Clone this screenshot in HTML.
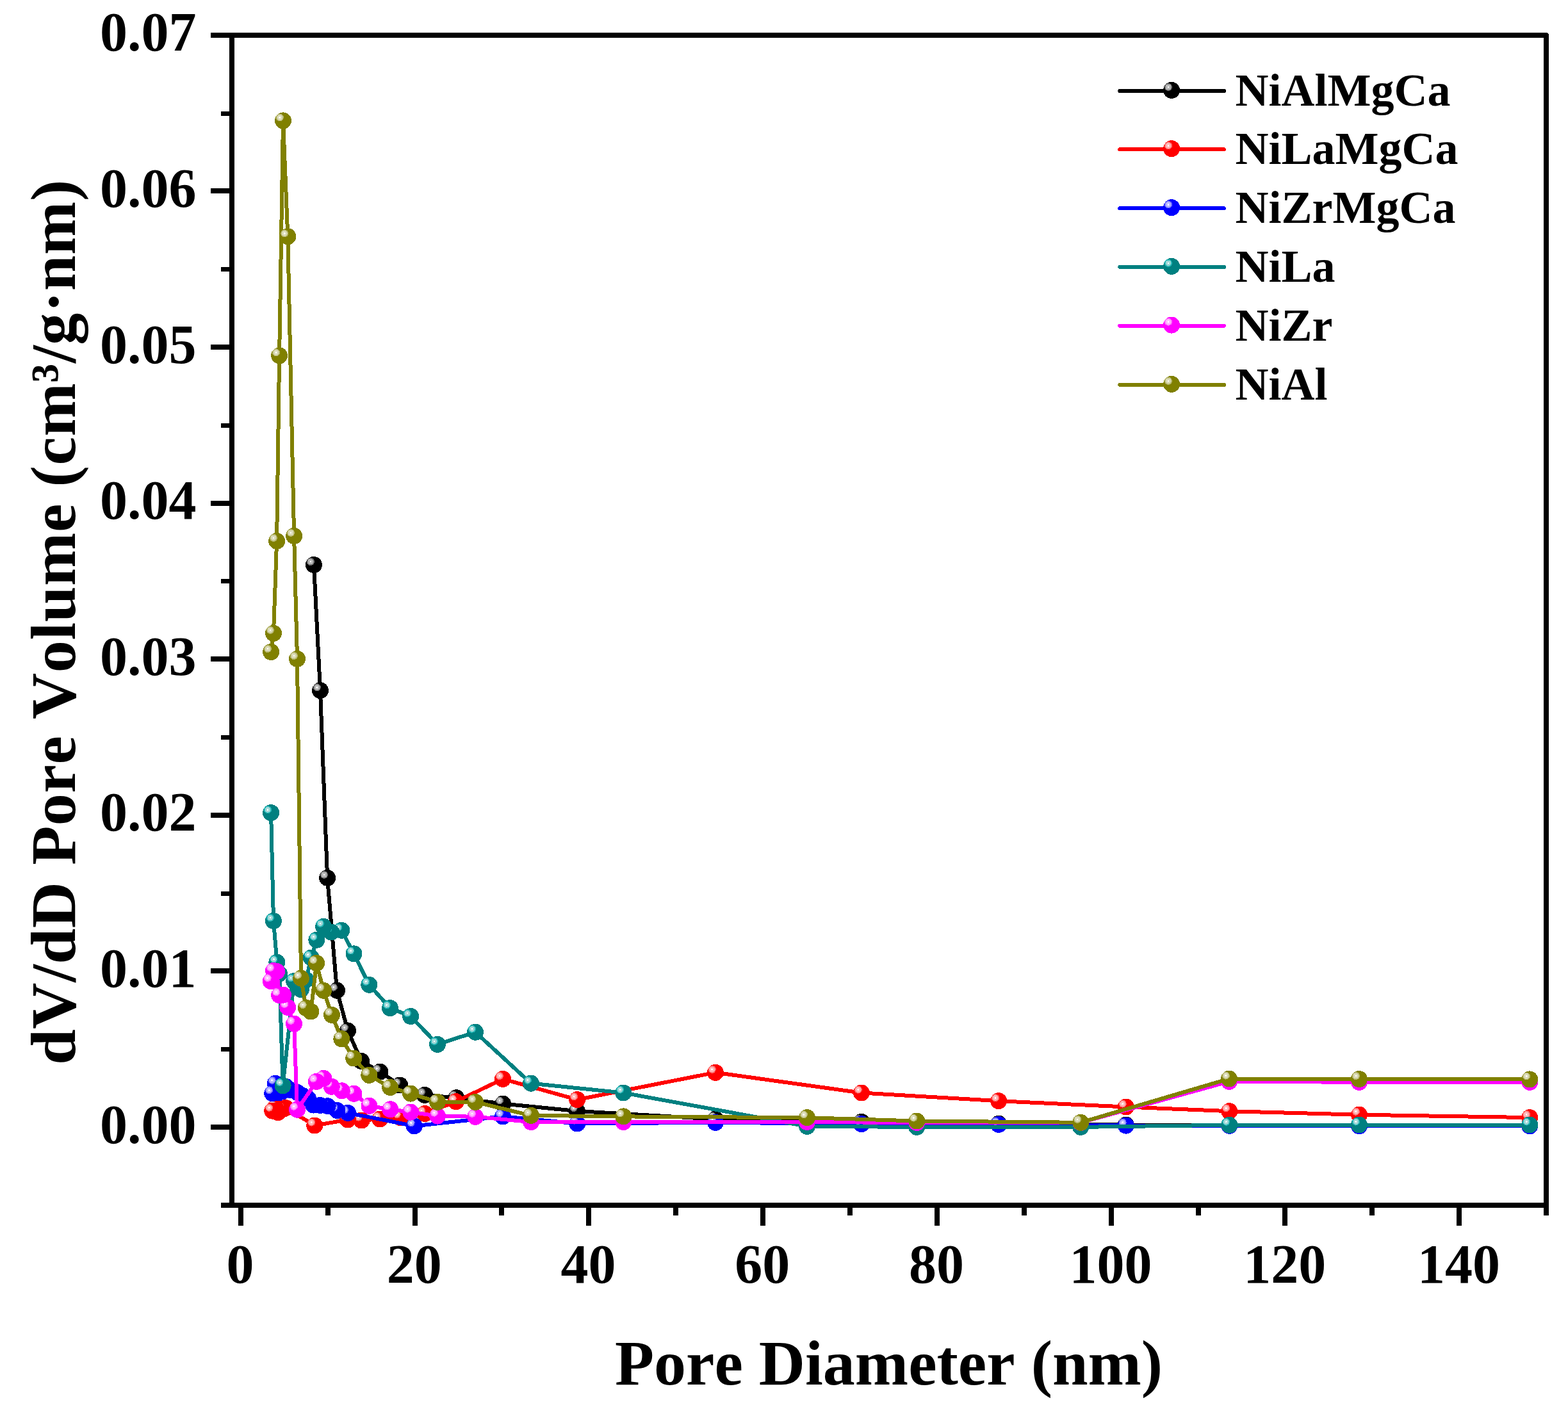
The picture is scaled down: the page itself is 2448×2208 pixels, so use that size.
<!DOCTYPE html>
<html lang="en"><head><meta charset="utf-8">
<title>dV/dD Pore Volume vs Pore Diameter</title>
<style>
html,body{margin:0;padding:0;background:#fff;}
body{width:2448px;height:2208px;overflow:hidden;}
svg{display:block;}
text{font-family:'Liberation Serif',serif;font-weight:bold;fill:#000;font-kerning:none;}
.tk{font-size:86px;}
.tt{font-size:100px;}
.lg{font-size:72px;}
</style></head><body>
<svg width="2448" height="2208" viewBox="0 0 2448 2208">
<defs><g id="m0"><circle r="13" fill="#000000"/><circle cx="-5.1" cy="-4.9" r="6" fill="#707070"/><circle cx="-5.1" cy="-4.9" r="4.4" fill="#b8b8b8"/><circle cx="-5.1" cy="-4.9" r="1.5" fill="#fff"/></g><g id="m1"><circle r="13" fill="#ff0000"/><circle cx="-5.1" cy="-4.9" r="6" fill="#ff7070"/><circle cx="-5.1" cy="-4.9" r="4.4" fill="#ffb8b8"/><circle cx="-5.1" cy="-4.9" r="1.5" fill="#fff"/></g><g id="m2"><circle r="13" fill="#0000ff"/><circle cx="-5.1" cy="-4.9" r="6" fill="#7070ff"/><circle cx="-5.1" cy="-4.9" r="4.4" fill="#b8b8ff"/><circle cx="-5.1" cy="-4.9" r="1.5" fill="#fff"/></g><g id="m3"><circle r="13" fill="#008080"/><circle cx="-5.1" cy="-4.9" r="6" fill="#28b8b8"/><circle cx="-5.1" cy="-4.9" r="4.4" fill="#a0d8d8"/><circle cx="-5.1" cy="-4.9" r="1.5" fill="#fff"/></g><g id="m4"><circle r="13" fill="#ff00ff"/><circle cx="-5.1" cy="-4.9" r="6" fill="#ff70ff"/><circle cx="-5.1" cy="-4.9" r="4.4" fill="#ffb8ff"/><circle cx="-5.1" cy="-4.9" r="1.5" fill="#fff"/></g><g id="m5"><circle r="13" fill="#808000"/><circle cx="-5.1" cy="-4.9" r="6" fill="#b8b870"/><circle cx="-5.1" cy="-4.9" r="4.4" fill="#dbdbb8"/><circle cx="-5.1" cy="-4.9" r="1.5" fill="#fff"/></g></defs>
<rect width="2448" height="2208" fill="#fff"/>
<g id="plot" shape-rendering="crispEdges">
<g id="s-black">
<polyline points="490,882 500,1078.2 511.1,1370.9 526,1546.7 543,1609.4 564.2,1657 593.3,1673.6 624.3,1694.5 663,1709.9 712.4,1714.3 785.1,1723.5 900.8,1735 1117,1747.5 1344.9,1751.8 1559.1,1754.7 1757.8,1756.5 1919.3,1757 2122,1757.5 2388.2,1758" fill="none" stroke="#000000" stroke-width="6" stroke-linejoin="round" stroke-linecap="round"/>
<use href="#m0" x="2388.2" y="1758"/>
<use href="#m0" x="2122" y="1757.5"/>
<use href="#m0" x="1919.3" y="1757"/>
<use href="#m0" x="1757.8" y="1756.5"/>
<use href="#m0" x="1559.1" y="1754.7"/>
<use href="#m0" x="1344.9" y="1751.8"/>
<use href="#m0" x="1117" y="1747.5"/>
<use href="#m0" x="900.8" y="1735"/>
<use href="#m0" x="785.1" y="1723.5"/>
<use href="#m0" x="712.4" y="1714.3"/>
<use href="#m0" x="663" y="1709.9"/>
<use href="#m0" x="624.3" y="1694.5"/>
<use href="#m0" x="593.3" y="1673.6"/>
<use href="#m0" x="564.2" y="1657"/>
<use href="#m0" x="543" y="1609.4"/>
<use href="#m0" x="526" y="1546.7"/>
<use href="#m0" x="511.1" y="1370.9"/>
<use href="#m0" x="500" y="1078.2"/>
<use href="#m0" x="490" y="882"/>
</g>
<g id="s-red">
<polyline points="425.3,1734.6 429.8,1729.2 434.1,1737.1 442,1732 446,1730 491.3,1757.5 543,1748.5 564.5,1749.5 593.3,1747.5 624.8,1745 663.2,1739 711.8,1720.2 785,1684.9 901.2,1717.1 1116.9,1674.8 1344.9,1706.5 1559.1,1719.2 1757.8,1728.5 1919.3,1735.2 2122,1740.7 2388.2,1745.1" fill="none" stroke="#ff0000" stroke-width="6" stroke-linejoin="round" stroke-linecap="round"/>
<use href="#m1" x="2388.2" y="1745.1"/>
<use href="#m1" x="2122" y="1740.7"/>
<use href="#m1" x="1919.3" y="1735.2"/>
<use href="#m1" x="1757.8" y="1728.5"/>
<use href="#m1" x="1559.1" y="1719.2"/>
<use href="#m1" x="1344.9" y="1706.5"/>
<use href="#m1" x="1116.9" y="1674.8"/>
<use href="#m1" x="901.2" y="1717.1"/>
<use href="#m1" x="785" y="1684.9"/>
<use href="#m1" x="711.8" y="1720.2"/>
<use href="#m1" x="663.2" y="1739"/>
<use href="#m1" x="624.8" y="1745"/>
<use href="#m1" x="593.3" y="1747.5"/>
<use href="#m1" x="564.5" y="1749.5"/>
<use href="#m1" x="543" y="1748.5"/>
<use href="#m1" x="491.3" y="1757.5"/>
<use href="#m1" x="446" y="1730"/>
<use href="#m1" x="442" y="1732"/>
<use href="#m1" x="434.1" y="1737.1"/>
<use href="#m1" x="429.8" y="1729.2"/>
<use href="#m1" x="425.3" y="1734.6"/>
</g>
<g id="s-blue">
<polyline points="425.3,1707.2 429.8,1691.8 434.5,1706.5 440.5,1704.5 446.3,1696.8 455.5,1702.5 464.5,1706.1 472.5,1711 481.1,1715.6 489.5,1725.6 500,1726 511.6,1727.2 526.4,1734 543,1737.8 646.8,1758.3 785,1743.4 901.2,1754.5 1117,1752.8 1344.9,1755.1 1559.1,1755.9 1757.8,1757.6 1919.3,1757.8 2122,1758.3 2388.2,1758.3" fill="none" stroke="#0000ff" stroke-width="6" stroke-linejoin="round" stroke-linecap="round"/>
<use href="#m2" x="2388.2" y="1758.3"/>
<use href="#m2" x="2122" y="1758.3"/>
<use href="#m2" x="1919.3" y="1757.8"/>
<use href="#m2" x="1757.8" y="1757.6"/>
<use href="#m2" x="1559.1" y="1755.9"/>
<use href="#m2" x="1344.9" y="1755.1"/>
<use href="#m2" x="1117" y="1752.8"/>
<use href="#m2" x="901.2" y="1754.5"/>
<use href="#m2" x="785" y="1743.4"/>
<use href="#m2" x="646.8" y="1758.3"/>
<use href="#m2" x="543" y="1737.8"/>
<use href="#m2" x="526.4" y="1734"/>
<use href="#m2" x="511.6" y="1727.2"/>
<use href="#m2" x="500" y="1726"/>
<use href="#m2" x="489.5" y="1725.6"/>
<use href="#m2" x="481.1" y="1715.6"/>
<use href="#m2" x="472.5" y="1711"/>
<use href="#m2" x="464.5" y="1706.1"/>
<use href="#m2" x="455.5" y="1702.5"/>
<use href="#m2" x="446.3" y="1696.8"/>
<use href="#m2" x="440.5" y="1704.5"/>
<use href="#m2" x="434.5" y="1706.5"/>
<use href="#m2" x="429.8" y="1691.8"/>
<use href="#m2" x="425.3" y="1707.2"/>
</g>
<g id="s-teal">
<polyline points="423.1,1269.2 427,1438 432.4,1502.7 436.1,1520.5 441.6,1695.2 459.1,1532 464,1540 469.8,1545 477.8,1530 485.8,1495.5 494.4,1467.7 505.1,1446.8 517.2,1455.5 533.3,1452.8 552.5,1489.4 576.3,1537.8 609,1574.1 641.1,1587 683,1630.8 742.1,1611.7 829,1691.7 973.3,1706.5 1260,1758.8 1431.2,1759.9 1687.2,1759.9 1919.3,1756.7 2122,1756.5 2388.2,1756.5" fill="none" stroke="#008080" stroke-width="6" stroke-linejoin="round" stroke-linecap="round"/>
<use href="#m3" x="2388.2" y="1756.5"/>
<use href="#m3" x="2122" y="1756.5"/>
<use href="#m3" x="1919.3" y="1756.7"/>
<use href="#m3" x="1687.2" y="1759.9"/>
<use href="#m3" x="1431.2" y="1759.9"/>
<use href="#m3" x="1260" y="1758.8"/>
<use href="#m3" x="973.3" y="1706.5"/>
<use href="#m3" x="829" y="1691.7"/>
<use href="#m3" x="742.1" y="1611.7"/>
<use href="#m3" x="683" y="1630.8"/>
<use href="#m3" x="641.1" y="1587"/>
<use href="#m3" x="609" y="1574.1"/>
<use href="#m3" x="576.3" y="1537.8"/>
<use href="#m3" x="552.5" y="1489.4"/>
<use href="#m3" x="533.3" y="1452.8"/>
<use href="#m3" x="517.2" y="1455.5"/>
<use href="#m3" x="505.1" y="1446.8"/>
<use href="#m3" x="494.4" y="1467.7"/>
<use href="#m3" x="485.8" y="1495.5"/>
<use href="#m3" x="477.8" y="1530"/>
<use href="#m3" x="469.8" y="1545"/>
<use href="#m3" x="464" y="1540"/>
<use href="#m3" x="459.1" y="1532"/>
<use href="#m3" x="441.6" y="1695.2"/>
<use href="#m3" x="436.1" y="1520.5"/>
<use href="#m3" x="432.4" y="1502.7"/>
<use href="#m3" x="427" y="1438"/>
<use href="#m3" x="423.1" y="1269.2"/>
</g>
<g id="s-magenta">
<polyline points="422.8,1532.1 427,1515.8 432.1,1517 436.2,1554 442,1553.6 449.2,1572.9 459.1,1598.7 464,1732.7 494,1689 505.3,1683.9 517.7,1696.8 533.8,1703.3 552.5,1707.8 576.5,1726.8 609.3,1732.3 641.2,1736.6 683,1742.6 742.1,1743.8 829.1,1752 973.3,1752 1260,1752 1431.2,1753 1687.2,1753 1919,1688.8 2122,1689.8 2388.2,1689.8" fill="none" stroke="#ff00ff" stroke-width="6" stroke-linejoin="round" stroke-linecap="round"/>
<use href="#m4" x="2388.2" y="1689.8"/>
<use href="#m4" x="2122" y="1689.8"/>
<use href="#m4" x="1919" y="1688.8"/>
<use href="#m4" x="1687.2" y="1753"/>
<use href="#m4" x="1431.2" y="1753"/>
<use href="#m4" x="1260" y="1752"/>
<use href="#m4" x="973.3" y="1752"/>
<use href="#m4" x="829.1" y="1752"/>
<use href="#m4" x="742.1" y="1743.8"/>
<use href="#m4" x="683" y="1742.6"/>
<use href="#m4" x="641.2" y="1736.6"/>
<use href="#m4" x="609.3" y="1732.3"/>
<use href="#m4" x="576.5" y="1726.8"/>
<use href="#m4" x="552.5" y="1707.8"/>
<use href="#m4" x="533.8" y="1703.3"/>
<use href="#m4" x="517.7" y="1696.8"/>
<use href="#m4" x="505.3" y="1683.9"/>
<use href="#m4" x="494" y="1689"/>
<use href="#m4" x="464" y="1732.7"/>
<use href="#m4" x="459.1" y="1598.7"/>
<use href="#m4" x="449.2" y="1572.9"/>
<use href="#m4" x="442" y="1553.6"/>
<use href="#m4" x="436.2" y="1554"/>
<use href="#m4" x="432.1" y="1517"/>
<use href="#m4" x="427" y="1515.8"/>
<use href="#m4" x="422.8" y="1532.1"/>
</g>
<g id="s-olive">
<polyline points="423.1,1018 427,988.8 432.1,844.8 436.1,555.3 442,188.4 449.3,369.3 459.1,836.9 464,1028.9 470,1527.7 477.8,1573.9 485.4,1579.5 494.1,1503.9 505.1,1546.7 518,1584.8 533.4,1622.3 552.2,1652.5 576.3,1678.9 609.2,1698 641.1,1707.6 683,1720.8 742.1,1720.8 829,1741.9 973.3,1743.4 1260,1745.2 1431.2,1750.5 1687.2,1752.8 1919,1684.5 2122,1685 2388.2,1685.4" fill="none" stroke="#808000" stroke-width="6" stroke-linejoin="round" stroke-linecap="round"/>
<use href="#m5" x="2388.2" y="1685.4"/>
<use href="#m5" x="2122" y="1685"/>
<use href="#m5" x="1919" y="1684.5"/>
<use href="#m5" x="1687.2" y="1752.8"/>
<use href="#m5" x="1431.2" y="1750.5"/>
<use href="#m5" x="1260" y="1745.2"/>
<use href="#m5" x="973.3" y="1743.4"/>
<use href="#m5" x="829" y="1741.9"/>
<use href="#m5" x="742.1" y="1720.8"/>
<use href="#m5" x="683" y="1720.8"/>
<use href="#m5" x="641.1" y="1707.6"/>
<use href="#m5" x="609.2" y="1698"/>
<use href="#m5" x="576.3" y="1678.9"/>
<use href="#m5" x="552.2" y="1652.5"/>
<use href="#m5" x="533.4" y="1622.3"/>
<use href="#m5" x="518" y="1584.8"/>
<use href="#m5" x="505.1" y="1546.7"/>
<use href="#m5" x="494.1" y="1503.9"/>
<use href="#m5" x="485.4" y="1579.5"/>
<use href="#m5" x="477.8" y="1573.9"/>
<use href="#m5" x="470" y="1527.7"/>
<use href="#m5" x="464" y="1028.9"/>
<use href="#m5" x="459.1" y="836.9"/>
<use href="#m5" x="449.3" y="369.3"/>
<use href="#m5" x="442" y="188.4"/>
<use href="#m5" x="436.1" y="555.3"/>
<use href="#m5" x="432.1" y="844.8"/>
<use href="#m5" x="427" y="988.8"/>
<use href="#m5" x="423.1" y="1018"/>
</g>
</g>
<g id="axes" fill="#000" shape-rendering="crispEdges">
<rect x="358" y="51" width="8" height="1835"/>
<path d="M358 55H2414V1886" fill="none" stroke="#000" stroke-width="8" stroke-linejoin="round"/>
<rect x="358" y="1878" width="2060" height="8"/>
<rect x="345" y="1878" width="14" height="8"/>
<rect x="329" y="1756" width="30" height="8"/>
<rect x="345" y="1635" width="14" height="7"/>
<rect x="329" y="1512" width="30" height="8"/>
<rect x="345" y="1392" width="14" height="7"/>
<rect x="329" y="1269" width="30" height="8"/>
<rect x="345" y="1148" width="14" height="7"/>
<rect x="329" y="1025" width="30" height="8"/>
<rect x="345" y="904" width="14" height="7"/>
<rect x="329" y="782" width="30" height="8"/>
<rect x="345" y="661" width="14" height="7"/>
<rect x="329" y="538" width="30" height="8"/>
<rect x="345" y="417" width="14" height="7"/>
<rect x="329" y="294" width="30" height="8"/>
<rect x="345" y="174" width="14" height="7"/>
<rect x="329" y="51" width="30" height="8"/>
<rect x="372" y="1885" width="8" height="29"/>
<rect x="508" y="1885" width="8" height="13"/>
<rect x="644" y="1885" width="8" height="29"/>
<rect x="779" y="1885" width="8" height="13"/>
<rect x="915" y="1885" width="8" height="29"/>
<rect x="1051" y="1885" width="8" height="13"/>
<rect x="1187" y="1885" width="8" height="29"/>
<rect x="1323" y="1885" width="8" height="13"/>
<rect x="1459" y="1885" width="8" height="29"/>
<rect x="1595" y="1885" width="8" height="13"/>
<rect x="1731" y="1885" width="8" height="29"/>
<rect x="1867" y="1885" width="8" height="13"/>
<rect x="2002" y="1885" width="8" height="29"/>
<rect x="2138" y="1885" width="8" height="13"/>
<rect x="2274" y="1885" width="8" height="29"/>
<rect x="2410" y="1885" width="8" height="13"/>
</g>
<g id="ylabels" class="tk" text-anchor="end">
<text x="306.5" y="1784.6">0.00</text>
<text x="306.5" y="1541">0.01</text>
<text x="306.5" y="1297.4">0.02</text>
<text x="306.5" y="1053.8">0.03</text>
<text x="306.5" y="810.2">0.04</text>
<text x="306.5" y="566.6">0.05</text>
<text x="306.5" y="323">0.06</text>
<text x="306.5" y="79.4">0.07</text>
</g>
<g id="xlabels" class="tk" text-anchor="middle">
<text x="375" y="2003.2">0</text>
<text x="646.8" y="2003.2">20</text>
<text x="918.6" y="2003.2">40</text>
<text x="1190.3" y="2003.2">60</text>
<text x="1462.1" y="2003.2">80</text>
<text x="1733.9" y="2003.2">100</text>
<text x="2005.7" y="2003.2">120</text>
<text x="2277.5" y="2003.2">140</text>
</g>
<text class="tt" text-anchor="middle" x="1387.6" y="2161.6">Pore Diameter (nm)</text>
<text class="tt" text-anchor="middle" letter-spacing="0.6" transform="translate(117.4,971.5) rotate(-90)">dV/dD Pore Volume (cm³/g·nm)</text>
<g id="legend">
<g shape-rendering="crispEdges"><line x1="1748.3" y1="142" x2="1910.9" y2="142" stroke="#000000" stroke-width="6" stroke-linecap="round"/><use href="#m0" x="1829.1" y="140.9"/></g>
<text class="lg" x="1928.6" y="164.9">NiAlMgCa</text>
<g shape-rendering="crispEdges"><line x1="1748.3" y1="233.3" x2="1910.9" y2="233.3" stroke="#ff0000" stroke-width="6" stroke-linecap="round"/><use href="#m1" x="1829.1" y="232.2"/></g>
<text class="lg" x="1928.6" y="256.2">NiLaMgCa</text>
<g shape-rendering="crispEdges"><line x1="1748.3" y1="325.3" x2="1910.9" y2="325.3" stroke="#0000ff" stroke-width="6" stroke-linecap="round"/><use href="#m2" x="1829.1" y="324.2"/></g>
<text class="lg" x="1928.6" y="348.2">NiZrMgCa</text>
<g shape-rendering="crispEdges"><line x1="1748.3" y1="416.9" x2="1910.9" y2="416.9" stroke="#008080" stroke-width="6" stroke-linecap="round"/><use href="#m3" x="1829.1" y="415.8"/></g>
<text class="lg" x="1928.6" y="439.8">NiLa</text>
<g shape-rendering="crispEdges"><line x1="1748.3" y1="508.7" x2="1910.9" y2="508.7" stroke="#ff00ff" stroke-width="6" stroke-linecap="round"/><use href="#m4" x="1829.1" y="507.6"/></g>
<text class="lg" x="1928.6" y="531.6">NiZr</text>
<g shape-rendering="crispEdges"><line x1="1748.3" y1="600.9" x2="1910.9" y2="600.9" stroke="#808000" stroke-width="6" stroke-linecap="round"/><use href="#m5" x="1829.1" y="599.8"/></g>
<text class="lg" x="1928.6" y="623.8">NiAl</text>
</g>
</svg></body></html>
